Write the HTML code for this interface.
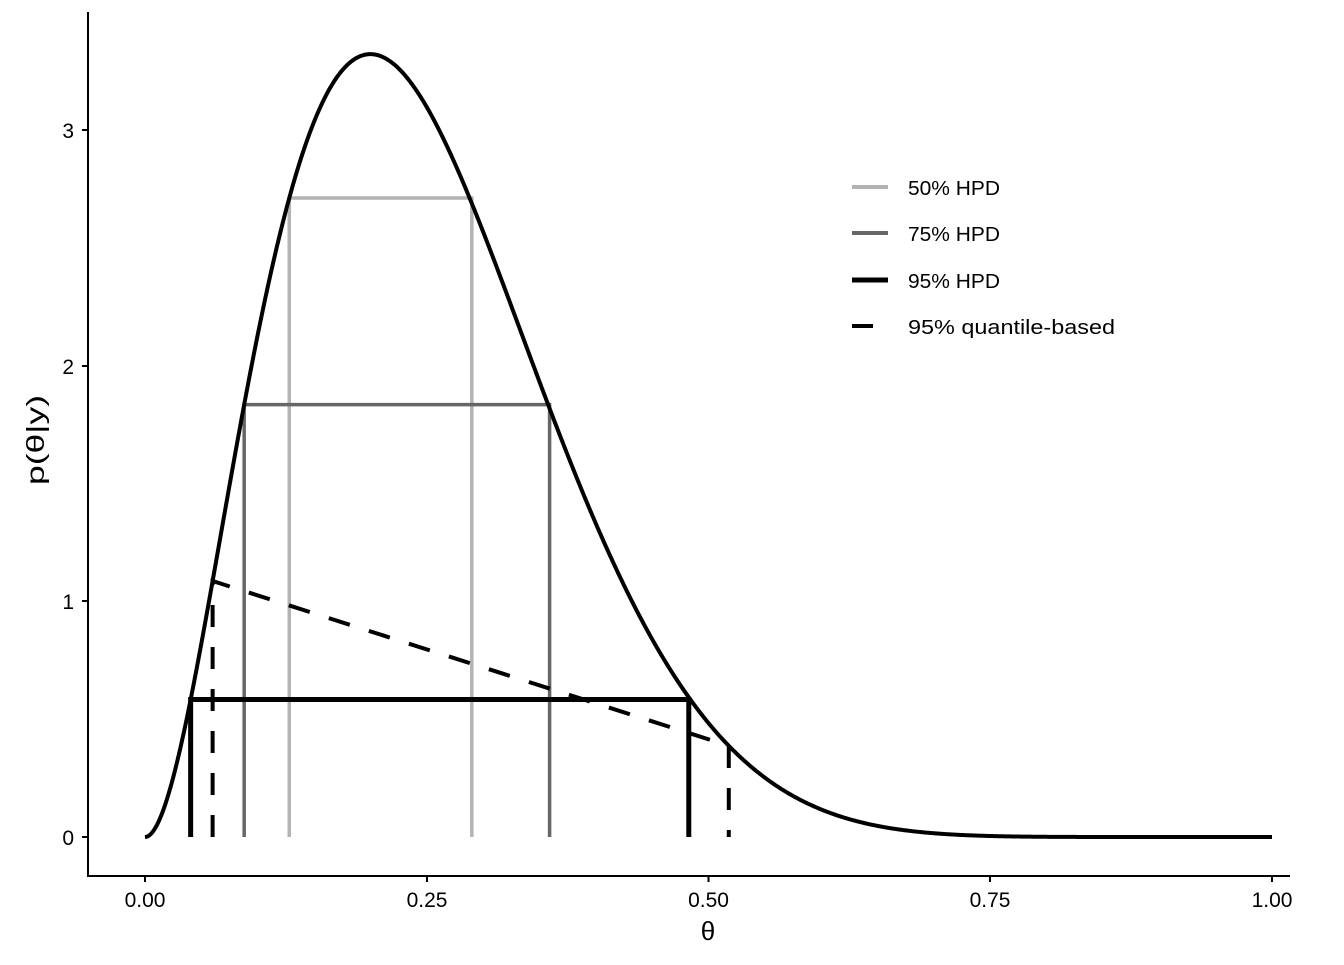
<!DOCTYPE html>
<html><head><meta charset="utf-8"><style>
body{margin:0;background:#fff}
text{font-family:"Liberation Sans",Arial,sans-serif}
</style></head><body>
<svg id="s" width="1344" height="960" xmlns="http://www.w3.org/2000/svg">
<g id="g"></g>
<line x1="88" y1="12" x2="88" y2="876.5" stroke="#000" stroke-width="2"/>
<line x1="87" y1="876" x2="1290" y2="876" stroke="#000" stroke-width="2"/>
<g stroke="#000" stroke-width="2">
<line x1="82" y1="837" x2="88" y2="837"/><line x1="82" y1="601" x2="88" y2="601"/>
<line x1="82" y1="366" x2="88" y2="366"/><line x1="82" y1="130" x2="88" y2="130"/>
<line x1="145" y1="876" x2="145" y2="882"/><line x1="427" y1="876" x2="427" y2="882"/>
<line x1="708.5" y1="876" x2="708.5" y2="882"/><line x1="990" y1="876" x2="990" y2="882"/>
<line x1="1272" y1="876" x2="1272" y2="882"/>
</g>
<g font-size="21" fill="#000" text-anchor="end">
<text x="74" y="845">0</text><text x="74" y="609">1</text><text x="74" y="374">2</text><text x="74" y="138">3</text>
</g>
<g font-size="21" fill="#000" text-anchor="middle">
<text x="145" y="907">0.00</text><text x="427" y="907">0.25</text><text x="708.5" y="907">0.50</text>
<text x="990" y="907">0.75</text><text x="1272" y="907">1.00</text>
</g>
<text x="708" y="940" font-size="26" text-anchor="middle" font-family="Liberation Serif">θ</text>
<text transform="translate(44,440) rotate(-90)" font-size="25" text-anchor="middle" textLength="90" lengthAdjust="spacingAndGlyphs">p(θ|y)</text>
<g font-size="20" fill="#000">
<line x1="852" y1="187" x2="888" y2="187" stroke="#b3b3b3" stroke-width="4"/><text x="908" y="195" textLength="92" lengthAdjust="spacingAndGlyphs">50% HPD</text>
<line x1="852" y1="233" x2="888" y2="233" stroke="#666" stroke-width="4"/><text x="908" y="241" textLength="92" lengthAdjust="spacingAndGlyphs">75% HPD</text>
<line x1="852" y1="280" x2="888" y2="280" stroke="#000" stroke-width="5"/><text x="908" y="288" textLength="92" lengthAdjust="spacingAndGlyphs">95% HPD</text>
<line x1="852" y1="326" x2="873" y2="326" stroke="#000" stroke-width="4"/><text x="908" y="334" textLength="207" lengthAdjust="spacingAndGlyphs">95% quantile-based</text>
</g>
</svg>
<script>
function d(t){return 495*t*t*Math.pow(1-t,8);}
function X(t){return 145+1127*t;}function Y(v){return 837-235.67*v;}
var g=document.getElementById('g'),h='';
function seg(a,col,w,dash){
 h+='<polyline fill="none" stroke="'+col+'" stroke-width="'+w+'"'+(dash?' stroke-dasharray="'+dash+'"':'')+' points="'+a+'"/>';
}
function box(l,r,col,w,dash){
 var p=X(l)+','+Y(0)+' '+X(l)+','+Y(d(l))+' ';
 if(dash){p+=X(r)+','+Y(d(r))+' '+X(r)+','+Y(0);}
 else{p+=X(r)+','+Y(d(l))+' '+X(r)+','+Y(0);}
 seg(p,col,w,dash);
}
box(0.128,0.290,'#b3b3b3',3.5);
box(0.088,0.359,'#666',3.5);
box(0.0405,0.4825,'#000',5);
box(0.06,0.518,'#000',4,'22,20');
var p='';for(var i=0;i<=1000;i++){var t=i/1000;p+=X(t).toFixed(2)+','+Y(d(t)).toFixed(2)+' ';}
seg(p,'#000',4);
g.innerHTML=h;
</script>
</body></html>
